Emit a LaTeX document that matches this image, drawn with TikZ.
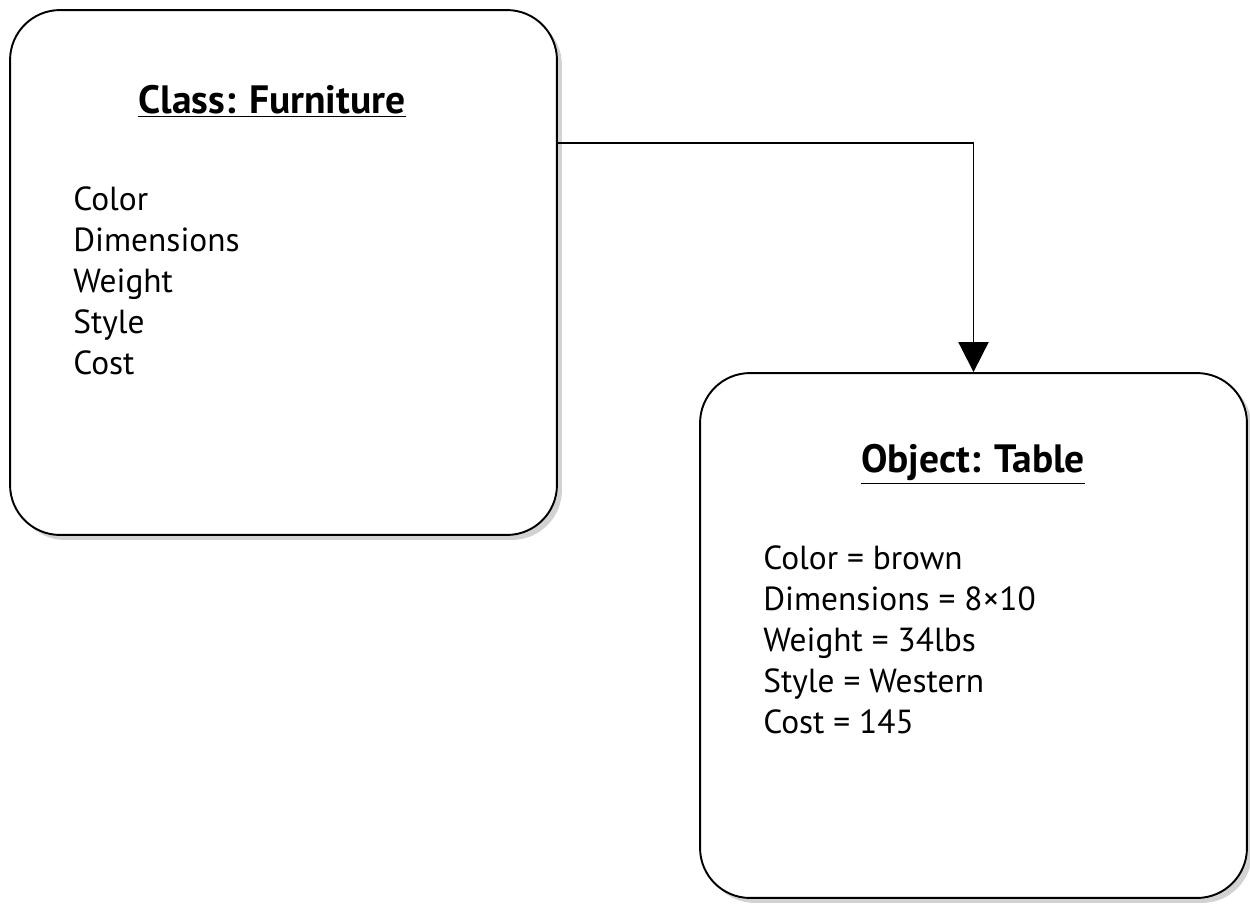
\documentclass[tikz,border=0pt]{standalone}
\usepackage{fontspec}
\setmainfont{PT Sans}
\usetikzlibrary{arrows.meta,shadows}

\tikzset{
  box/.style={draw, line width=1.1pt, rounded corners=1cm, fill=white,
    minimum width=10.94cm, minimum height=10.5cm, inner sep=0pt,
    drop shadow={shadow xshift=0.1cm, shadow yshift=-0.1cm, fill=black!35}},
  title/.style={font=\fontsize{22.5}{27}\selectfont\bfseries},
  attrs/.style={anchor=north west, align=left, inner sep=0pt,
    font=\fontsize{19}{23.4}\selectfont},
  conn/.style={line width=1.1pt, -{Triangle[length=0.6cm, width=0.6cm]}}
}

\begin{document}
\begin{tikzpicture}[x=0.02cm, y=-0.02cm]
    \useasboundingbox (0,0) rectangle (1250,903);

    % Draw the class box
    \node[box] (furniture) at (283.5,272.5) {};
    \node[title] (furnname) at (272,101) {\underline{Class: Furniture}};
    \node[attrs] (furnattrs) at (73,186) {Color\\Dimensions\\Weight\\Style\\Cost};

    % Draw the object box
    \node[box] (table) at (973.5,635.5) {};
    \node[title] (tablename) at (973,464) {\underline{Object: Table}};
    \node[attrs] (tableattrs) at (763,545) {Color = brown\\Dimensions = 8×10\\Weight = 34lbs\\Style = Western\\Cost = 145};

    % Draw the link from class to object
    \coordinate (link) at (557,143);
    \draw[conn] (link) -| (table.north);
\end{tikzpicture}
\end{document}
